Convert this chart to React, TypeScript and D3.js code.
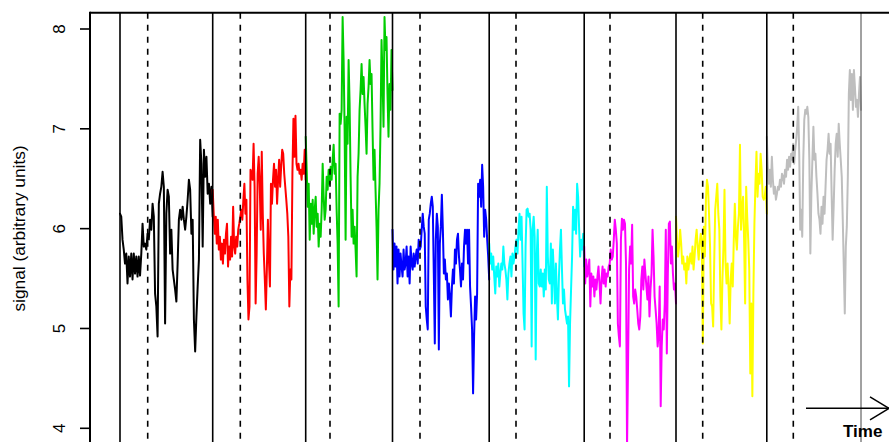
import React from "react";
import * as d3 from "d3";

// Change points (time units) where a new segment starts; last one is the end.
const changePoints = [0, 92.7, 185.7, 272.5, 369.2, 464.2, 556, 646.8, 741];
// Onset points (time units) marked with dashed lines.
const onsetPoints = [27.7, 120.3, 210, 300, 396, 490, 582.7, 673.3];

const yTicks = [4, 5, 6, 7, 8];

const seriesColors = ["#000000", "#FF0000", "#00CD00", "#0000FF", "#00FFFF", "#FF00FF", "#FFFF00", "#BEBEBE"];

const blackValues = [6.15, 6.12, 5.89, 5.79, 5.65, 5.75, 5.45, 5.72, 5.52, 5.75, 5.49, 5.75, 5.55, 5.72, 5.52, 5.72, 5.53, 5.75, 6.05, 5.82, 5.85, 5.79, 5.95, 5.89, 6.09, 5.99, 6.25, 6.12, 5.35, 5.22, 4.92, 6.25, 6.35, 6.42, 6.57, 6.42, 5.05, 6.15, 6.39, 6.32, 5.75, 5.99, 5.59, 5.49, 5.39, 5.27, 5.65, 6.09, 6.19, 6.09, 6.22, 6.09, 5.99, 6.12, 6.29, 6.49, 6.39, 5.95, 6.09, 5.09, 4.77, 5.12, 5.42, 5.69, 6.89, 6.65, 5.82, 6.79, 6.52, 6.72, 6.35, 6.45, 6.25, 6.42, 6.12];

const redValues = [6.39, 6.15, 5.95, 6.12, 5.85, 6.09, 5.79, 5.92, 5.69, 5.85, 5.65, 5.89, 5.75, 5.95, 6.05, 5.62, 5.82, 5.69, 5.92, 5.72, 6.22, 5.82, 5.75, 5.92, 5.82, 5.99, 6.05, 6.12, 6.19, 6.09, 6.29, 6.45, 6.15, 6.29, 5.49, 5.09, 5.22, 6.59, 6.55, 6.49, 6.85, 6.42, 5.25, 5.75, 6.55, 6.72, 6.45, 5.99, 6.77, 6.15, 5.75, 5.49, 5.19, 5.59, 6.09, 5.69, 5.42, 6.45, 6.25, 6.49, 6.65, 6.42, 6.59, 6.25, 6.49, 6.69, 6.42, 6.62, 6.79, 6.75, 6.55, 6.42, 6.29, 6.15, 5.92, 5.22, 5.59, 5.49, 6.55, 7.1, 6.72, 7.13, 6.65, 6.59, 6.65, 6.55, 6.59, 6.49, 6.65, 6.55, 6.79, 6.49];

const greenValues = [6.92, 6.59, 6.22, 6.45, 5.89, 6.25, 6.05, 6.29, 5.95, 6.19, 6.32, 6.02, 6.15, 5.82, 6.05, 5.92, 6.19, 6.65, 6.32, 6.09, 6.19, 6.52, 6.39, 6.59, 6.45, 6.62, 6.49, 6.69, 6.84, 6.55, 6.65, 6.19, 5.85, 5.22, 7.15, 7.05, 7.19, 8.12, 7.69, 6.99, 5.89, 7.12, 6.85, 7.69, 7.25, 6.52, 5.92, 6.19, 5.85, 6.02, 5.79, 5.52, 6.52, 6.75, 7.19, 7.39, 7.65, 7.35, 7.52, 7.25, 7.02, 6.75, 7.25, 7.42, 7.69, 7.45, 7.55, 6.99, 6.49, 6.79, 6.39, 6.02, 5.49, 6.19, 6.45, 7.02, 7.89, 7.52, 7.02, 8.12, 7.79, 7.92, 7.35, 6.92, 7.45, 7.19, 7.79, 7.39];

const blueValues = [5.99, 5.59, 5.85, 5.62, 5.82, 5.45, 5.79, 5.52, 5.75, 5.62, 5.52, 5.79, 5.59, 5.65, 5.82, 5.52, 5.72, 5.45, 5.82, 5.65, 5.59, 5.75, 5.62, 5.72, 5.79, 5.65, 5.89, 5.79, 5.82, 5.99, 6.15, 6.02, 5.95, 5.22, 5.09, 4.99, 6.09, 6.15, 6.25, 6.32, 6.22, 5.55, 4.85, 5.89, 6.15, 6.02, 4.79, 5.85, 6.02, 6.34, 5.99, 5.55, 5.69, 5.49, 5.55, 5.29, 5.45, 5.32, 5.12, 5.42, 5.59, 5.45, 5.79, 5.65, 5.89, 5.95, 5.72, 5.59, 5.42, 5.65, 5.49, 5.82, 5.99, 5.85, 5.99, 5.65, 5.99, 5.42, 5.22, 4.99, 4.35, 4.92, 5.32, 5.09, 5.35, 6.45, 6.32, 6.49, 6.22, 6.64, 6.42, 5.92, 6.19, 6.09, 5.89, 5.72, 5.49];

const cyanValues = [5.85, 5.65, 5.75, 5.59, 5.72, 5.52, 5.35, 5.62, 5.52, 5.65, 5.42, 5.55, 5.65, 5.59, 5.82, 5.65, 5.59, 5.49, 5.29, 5.55, 5.65, 5.72, 5.52, 5.75, 5.65, 5.72, 5.82, 5.89, 5.75, 5.99, 6.15, 5.89, 6.12, 5.65, 5.15, 4.99, 5.82, 6.19, 6.2, 6.12, 6.15, 5.99, 4.82, 5.99, 6.12, 5.92, 4.69, 5.72, 5.99, 5.45, 5.42, 5.59, 5.42, 5.55, 5.32, 5.59, 5.39, 6.42, 5.72, 5.49, 5.45, 5.85, 5.25, 5.79, 5.55, 5.25, 5.65, 5.32, 5.09, 5.52, 5.79, 5.99, 5.59, 5.25, 5.39, 5.19, 5.12, 5.05, 5.12, 4.42, 5.05, 5.39, 5.72, 6.22, 5.99, 6.19, 5.95, 6.45, 6.32, 5.99, 5.72, 5.89, 5.79, 5.95, 5.62];

const magentaValues = [5.82, 5.45, 5.69, 5.52, 5.59, 5.69, 5.22, 5.55, 5.42, 5.52, 5.32, 5.49, 5.39, 5.52, 5.62, 5.45, 5.25, 5.49, 5.62, 5.45, 5.59, 5.42, 5.55, 5.52, 5.62, 5.65, 5.79, 5.69, 5.72, 5.89, 6.09, 5.99, 5.85, 5.05, 4.92, 4.82, 5.89, 6.1, 5.99, 6.09, 6.05, 5.65, 3.8, 4.65, 5.59, 5.82, 5.65, 6.04, 5.32, 5.25, 5.39, 5.32, 5.19, 5.05, 4.99, 5.12, 5.49, 5.62, 5.39, 5.69, 5.55, 5.42, 5.29, 5.52, 5.12, 5.39, 5.55, 5.99, 5.72, 5.32, 5.19, 5.05, 4.82, 4.95, 5.42, 4.22, 4.82, 5.09, 4.99, 5.25, 5.99, 4.75, 5.55, 6.05, 6.07, 5.65, 5.82, 5.55, 5.39, 5.45, 5.25];

const yellowValues = [6.12, 5.89, 5.72, 5.82, 5.99, 5.85, 5.65, 5.72, 5.59, 5.65, 5.45, 5.72, 5.59, 5.69, 5.75, 5.65, 5.82, 5.59, 5.72, 5.89, 5.99, 5.82, 5.69, 5.85, 5.95, 5.89, 4.85, 6.02, 5.72, 6.29, 6.49, 6.42, 6.15, 5.82, 5.25, 5.22, 5.02, 5.65, 6.19, 6.32, 6.45, 6.15, 5.99, 5.32, 4.99, 5.49, 5.82, 6.39, 5.65, 5.45, 5.65, 5.39, 5.05, 5.49, 5.65, 5.42, 5.89, 6.25, 5.92, 5.79, 6.02, 6.15, 6.84, 5.99, 6.19, 6.32, 5.89, 5.25, 6.42, 6.12, 5.89, 5.59, 4.55, 5.25, 4.32, 5.35, 6.05, 6.45, 6.77, 6.32, 6.55, 6.45, 6.75, 6.59, 6.32, 6.29, 6.32, 6.42, 6.15];

const grayValues = [6.92, 6.62, 6.45, 6.59, 6.42, 6.72, 6.49, 6.35, 6.42, 6.29, 6.35, 6.42, 6.39, 6.49, 6.42, 6.55, 6.52, 6.45, 6.59, 6.52, 6.69, 6.59, 6.72, 6.62, 6.75, 6.69, 6.85, 6.65, 6.79, 6.89, 7.02, 7.22, 6.75, 5.99, 6.19, 5.92, 6.69, 7.09, 7.19, 7.15, 7.22, 7.12, 6.69, 5.75, 6.35, 6.69, 7.02, 6.69, 6.75, 6.52, 6.35, 6.15, 6.09, 5.95, 6.22, 6.05, 6.32, 6.15, 6.42, 6.69, 6.79, 6.95, 6.75, 6.85, 6.35, 5.89, 6.22, 6.59, 6.85, 6.95, 6.72, 7.05, 6.85, 6.69, 6.52, 6.09, 5.62, 5.15, 5.82, 6.02, 6.52, 7.35, 7.59, 7.29, 7.55, 7.19, 7.59, 7.42, 7.22, 7.29, 7.12, 7.35, 7.52, 7.19];

const segments = [blackValues, redValues, greenValues, blueValues, cyanValues, magentaValues, yellowValues, grayValues];

const W = 889;
const H = 442;
const FONT = "'Liberation Sans', Arial, Helvetica, sans-serif";

export default function App() {
  const x = d3.scaleLinear().domain([-30, 769]).range([90, 889]);
  const y = d3.scaleLinear().domain([4, 8]).range([428.3, 29]);
  const plotTop = 12.7;
  const plotLeft = x(-30);

  const line = d3
    .line<[number, number]>()
    .x((d) => x(d[0]))
    .y((d) => y(d[1]));

  const paths = segments.map((vals, i) => {
    const t0 = changePoints[i];
    const t1 = changePoints[i + 1];
    const pts: [number, number][] = vals.map((v, j) => [t0 + (j * (t1 - t0)) / (vals.length - 1), v]);
    return line(pts) || "";
  });

  const arrowY = y(4.2);
  const arrowX0 = x(686);
  const arrowX1 = x(769);

  return (
    <svg
      width={W}
      height={H}
      style={{ position: "absolute", left: 0, top: 0, display: "block", background: "#fff" }}
    >
      <defs>
        <clipPath id="plotClip">
          <rect x={plotLeft} y={plotTop} width={W - plotLeft} height={H - plotTop} />
        </clipPath>
      </defs>
      <rect x={0} y={0} width={W} height={H} fill="#fff" />

      {/* data */}
      <g clipPath="url(#plotClip)" fill="none" strokeWidth={2} strokeLinejoin="round" strokeLinecap="round">
        {paths.map((d, i) => (
          <path key={i} d={d} stroke={seriesColors[i]} />
        ))}
      </g>

      {/* change point lines */}
      {changePoints.map((t, i) => {
        const last = i === changePoints.length - 1;
        return (
          <line
            key={"c" + i}
            x1={x(t)}
            x2={x(t)}
            y1={plotTop}
            y2={H}
            stroke={last ? "#444" : "#000"}
            strokeWidth={last ? 1 : 1.6}
          />
        );
      })}
      {/* onset lines */}
      {onsetPoints.map((t, i) => (
        <line
          key={"o" + i}
          x1={x(t)}
          x2={x(t)}
          y1={plotTop}
          y2={H}
          stroke="#000"
          strokeWidth={1.6}
          strokeDasharray="6,6"
        />
      ))}

      {/* frame */}
      <line x1={plotLeft} x2={W} y1={plotTop} y2={plotTop} stroke="#000" strokeWidth={2} />
      <line x1={plotLeft} x2={plotLeft} y1={plotTop - 1} y2={H} stroke="#000" strokeWidth={2} />

      {/* y axis */}
      {yTicks.map((v) => (
        <g key={v}>
          <line x1={plotLeft - 10} x2={plotLeft} y1={y(v)} y2={y(v)} stroke="#000" strokeWidth={1.6} />
          <text
            transform={`translate(65,${y(v)}) rotate(-90)`}
            textAnchor="middle"
            fontFamily={FONT}
            fontSize={17}
            fill="#000"
          >
            {v}
          </text>
        </g>
      ))}
      <text
        transform={`translate(25,${(y(4) + y(8)) / 2 - 0.2}) rotate(-90)`}
        textAnchor="middle"
        fontFamily={FONT}
        fontSize={17.3}
        fill="#000"
      >
        signal (arbitrary units)
      </text>

      {/* time arrow */}
      <line x1={arrowX0} x2={arrowX1} y1={arrowY} y2={arrowY} stroke="#000" strokeWidth={1.5} />
      <line x1={arrowX1 - 19} y1={arrowY - 11.5} x2={arrowX1} y2={arrowY} stroke="#000" strokeWidth={1.5} />
      <line x1={arrowX1 - 19} y1={arrowY + 11.5} x2={arrowX1} y2={arrowY} stroke="#000" strokeWidth={1.5} />
      <text x={x(723)} y={y(3.908)} fontFamily={FONT} fontSize={17} fontWeight="bold" fill="#000">
        Time
      </text>
    </svg>
  );
}
